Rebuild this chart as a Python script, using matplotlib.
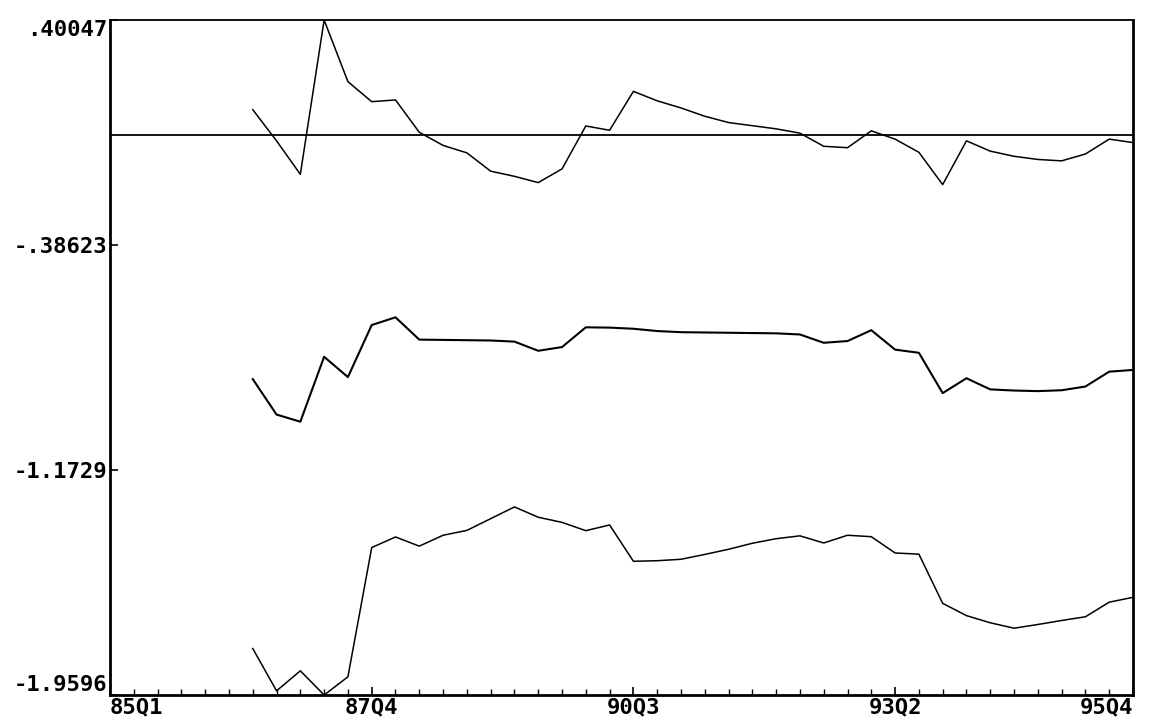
import matplotlib.pyplot as plt
import numpy as np

# quarters 85Q1 .. 95Q4
quarters = ['%02dQ%d' % (y, q) for y in range(85, 96) for q in range(1, 5)]
start = '86Q3'

# top series (fluctuates around zero)
upper = [0.087, -0.022, -0.139, 0.40047, 0.185, 0.115, 0.121, 0.008, -0.038,
         -0.064, -0.128, -0.146, -0.168, -0.120, 0.030, 0.015, 0.151, 0.118,
         0.093, 0.064, 0.042, 0.031, 0.020, 0.005, -0.041, -0.046, 0.013,
         -0.016, -0.062, -0.175, -0.022, -0.058, -0.076, -0.087, -0.092,
         -0.068, -0.016, -0.028]

# middle series
middle = [-0.855, -0.979, -1.004, -0.777, -0.848, -0.666, -0.639, -0.717,
          -0.718, -0.719, -0.720, -0.724, -0.756, -0.743, -0.674, -0.675,
          -0.679, -0.687, -0.691, -0.692, -0.693, -0.694, -0.695, -0.699,
          -0.728, -0.722, -0.684, -0.752, -0.763, -0.904, -0.852, -0.891,
          -0.895, -0.897, -0.894, -0.881, -0.829, -0.823]

# bottom series
lower = [-1.797, -1.945, -1.875, -1.9596, -1.896, -1.444, -1.407, -1.439,
         -1.401, -1.384, -1.343, -1.302, -1.338, -1.356, -1.385, -1.365,
         -1.492, -1.490, -1.485, -1.468, -1.450, -1.429, -1.413, -1.403,
         -1.428, -1.401, -1.406, -1.463, -1.467, -1.639, -1.682, -1.707,
         -1.726, -1.713, -1.699, -1.686, -1.635, -1.618]

ytick_vals = [0.40047, -0.38623, -1.1729, -1.9596]
ytick_labels = ['.40047', '-.38623', '-1.1729', '-1.9596']
xtick_labels = ['85Q1', '87Q4', '90Q3', '93Q2', '95Q4']

fig = plt.figure(figsize=(11.52, 7.28), dpi=100)
ax = fig.add_axes([0.0955, 0.0453, 0.888, 0.9272])

x0 = quarters.index(start)
x = np.arange(x0, x0 + len(upper))

ax.axhline(0, color='black', lw=1.3)
ax.plot(x, upper, color='black', lw=1.1)
ax.plot(x, middle, color='black', lw=1.5)
ax.plot(x, lower, color='black', lw=1.1)

ax.set_xlim(0, len(quarters) - 1)
ax.set_ylim(min(ytick_vals), max(ytick_vals))

font = dict(family='DejaVu Sans Mono', weight='bold', size=16)

ax.set_yticks(ytick_vals)
ax.set_yticklabels(ytick_labels, **font)
ylabs = ax.get_yticklabels()
ylabs[0].set_va('top')
ylabs[-1].set_va('bottom')

ax.set_xticks([quarters.index(q) for q in xtick_labels])
ax.set_xticklabels(xtick_labels, **font)
xlabs = ax.get_xticklabels()
xlabs[0].set_ha('left')
xlabs[-1].set_ha('right')
ax.set_xticks(np.arange(len(quarters)), minor=True)

ax.tick_params(axis='both', which='major', direction='in', length=6, width=1.2, pad=2)
ax.tick_params(axis='x', which='minor', direction='in', length=4, width=1)

for side in ['left', 'bottom', 'right']:
    ax.spines[side].set_linewidth(2)
ax.spines['top'].set_linewidth(1.3)

fig.savefig('out.png', dpi=100)
